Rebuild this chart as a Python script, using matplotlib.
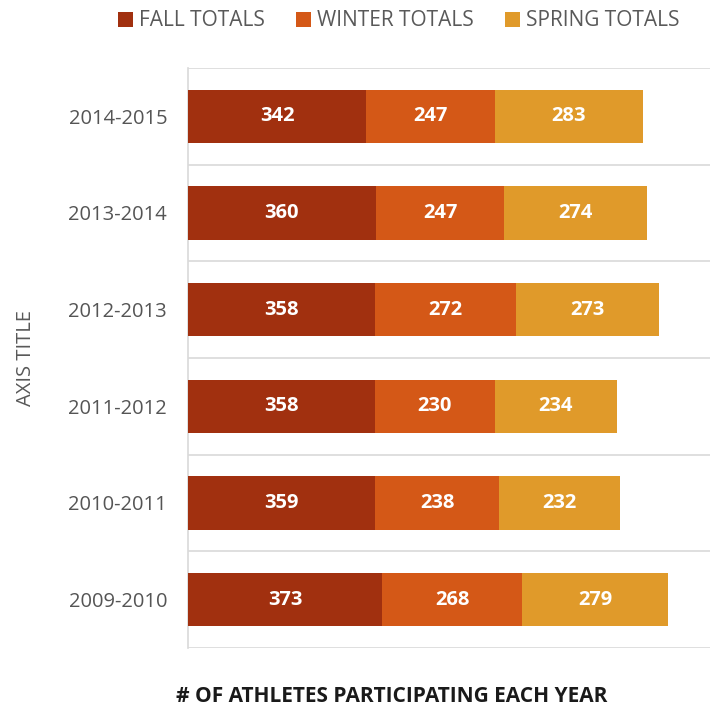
import matplotlib
matplotlib.use("Agg")
import matplotlib.pyplot as plt
import numpy as np

years = ["2009-2010", "2010-2011", "2011-2012", "2012-2013", "2013-2014", "2014-2015"]
fall = [373, 359, 358, 358, 360, 342]
winter = [268, 238, 230, 272, 247, 247]
spring = [279, 232, 234, 273, 274, 283]
series_names = ["FALL TOTALS", "WINTER TOTALS", "SPRING TOTALS"]
colors = ["#A1300F", "#D45817", "#E09A2A"]

plt.rcParams["font.family"] = ["Open Sans", "DejaVu Sans"]

fig = plt.figure(figsize=(7.10, 7.11), dpi=100)
ax = fig.add_axes([188 / 710, 1 - 648 / 711, (712 - 188) / 710, (648 - 68) / 711])

y = np.arange(len(years))
left = np.zeros(len(years))
handles = []
for name, vals, c in zip(series_names, [fall, winter, spring], colors):
    vals = np.array(vals)
    bars = ax.barh(y, vals, left=left, height=0.55, color=c, label=name, zorder=3)
    handles.append(bars)
    for yi, l, v in zip(y, left, vals):
        ax.text(l + v / 2, yi, f"{v}", ha="center", va="center", color="white",
                fontsize=14.5, fontweight="bold", zorder=4)
    left = left + vals

ax.set_xlim(0, 1005)
ax.set_ylim(-0.5, len(years) - 0.5)
ax.set_yticks(y)
ax.set_yticklabels(years, fontsize=14.5, color="#555555")
ax.tick_params(axis="y", length=0, pad=15)
ax.set_xticks([])

# separators between category rows
for b in np.arange(-0.5, len(years), 1.0):
    ax.axhline(b, color="#D9D9D9", lw=1.2, zorder=1)
for s in ["top", "right", "bottom"]:
    ax.spines[s].set_visible(False)
ax.spines["left"].set_color("#D9D9D9")
ax.spines["left"].set_linewidth(1.2)

fig.text(26 / 710, 1 - 358 / 711, "AXIS TITLE", rotation=90, ha="center", va="center",
         fontsize=14.5, color="#595959")
fig.text(392 / 710, 1 - 697 / 711, "# OF ATHLETES PARTICIPATING EACH YEAR", ha="center",
         va="center", fontsize=15, fontweight="bold", color="#1a1a1a")

fig.legend(handles=handles, labels=series_names, loc="center", bbox_to_anchor=(399 / 710, 1 - 21 / 711),
           ncol=3, frameon=False, fontsize=15, handlelength=0.7, handleheight=0.7,
           handletextpad=0.3, columnspacing=1.5, labelcolor="#595959")

fig.savefig("out.png", dpi=100, facecolor="white")
